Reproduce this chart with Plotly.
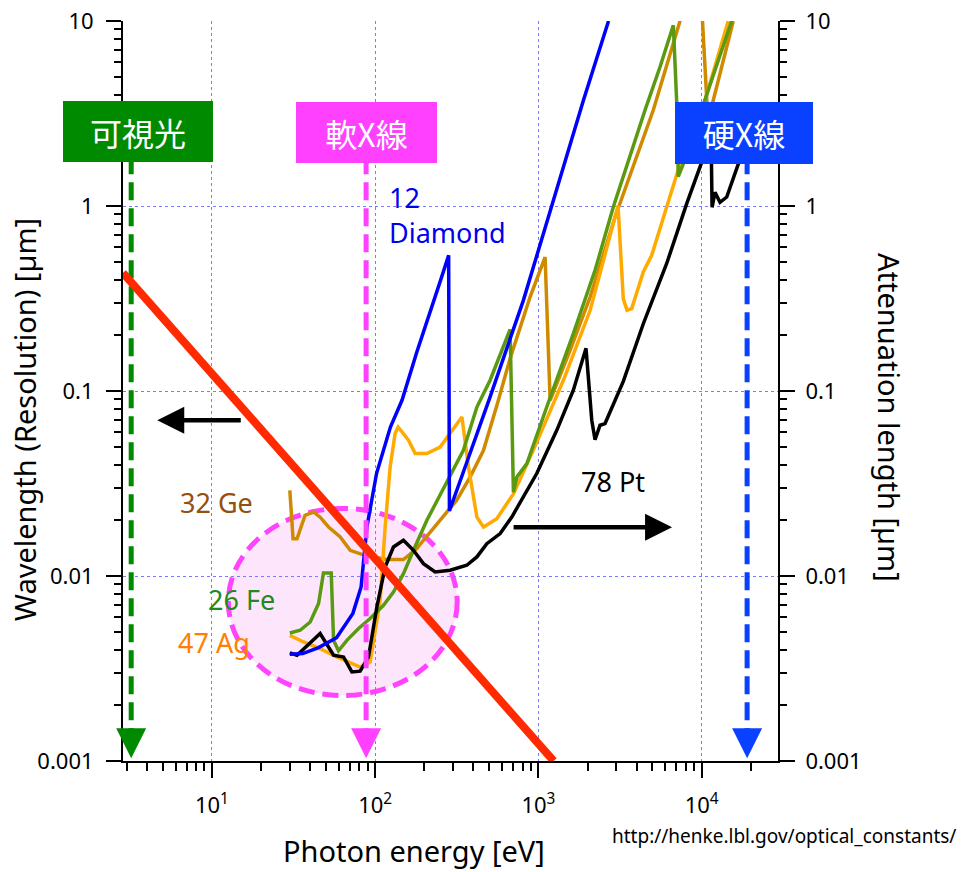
import math
import plotly.graph_objects as go

# ---- data: photon energy [eV] and attenuation length [um] ----
diamond_E = [30, 36, 45, 58, 73, 82, 89, 102, 124, 146, 180, 217, 250, 282, 285,
             350, 506, 809, 1074, 1423, 1888, 2690]
diamond_L = [0.00378, 0.00381, 0.0041, 0.00464, 0.00628, 0.00872, 0.0184, 0.0359,
             0.0638, 0.0891, 0.1626, 0.273, 0.39, 0.541, 0.0225, 0.0373, 0.0929,
             0.309, 0.71, 1.63, 3.73, 10.0]

fe_E = [30, 34.7, 40, 45, 48.2, 53.8, 55.6, 59.6, 67.1, 79.1, 93.1, 112.4, 129.4,
        149, 171.6, 207.4, 262, 347, 420, 506, 671, 703, 738, 850, 1125, 1637,
        2224, 2877, 4498, 5560, 6712, 7030, 7195, 7720, 15280]
fe_L = [0.00492, 0.00509, 0.00564, 0.0071, 0.01038, 0.01038, 0.00449, 0.00394,
        0.00449, 0.0052, 0.00589, 0.00695, 0.00819, 0.0103, 0.01377, 0.02, 0.0297,
        0.0478, 0.0819, 0.1143, 0.215, 0.0284, 0.0343, 0.0405, 0.0819, 0.204,
        0.449, 0.988, 3.29, 5.64, 9.48, 3.72, 1.44, 1.69, 10.0]

ge_E = [30, 31.4, 33.2, 37.2, 41.9, 46, 51.8, 61.1, 70.3, 82.9, 97.7, 118, 149,
        180, 197.6, 239, 316, 382, 461, 560, 671, 889, 1099, 1180, 1564, 2075,
        2951, 5060, 7380, 9640, 10940, 15630]
ge_L = [0.029, 0.0159, 0.0159, 0.0213, 0.0222, 0.0208, 0.0184, 0.01625, 0.01377,
        0.01309, 0.01268, 0.01227, 0.01227, 0.01406, 0.0156, 0.0192, 0.0257,
        0.0343, 0.0478, 0.085, 0.15, 0.322, 0.53, 0.0891, 0.166, 0.322, 0.872,
        3.3, 10.0, 22.0, 2.87, 10.0]

ag_E = [30, 36.4, 46, 58.2, 80.9, 93.1, 107.3, 115.1, 123.5, 132.5, 138.3, 160,
        175.8, 207.4, 250, 295, 340, 373, 420, 461, 556, 703, 931, 1423, 2075,
        3076, 3313, 3490, 3731, 4393, 4945, 5970, 7380, 10500, 14550]
ag_L = [0.00478, 0.0044, 0.00405, 0.00365, 0.00322, 0.00343, 0.0074, 0.0184,
        0.0388, 0.0589, 0.0639, 0.0542, 0.0459, 0.0459, 0.0498, 0.0613, 0.0723,
        0.0388, 0.0208, 0.0184, 0.0204, 0.0278, 0.0479, 0.1143, 0.273, 1.004,
        0.315, 0.273, 0.279, 0.44, 0.541, 0.925, 1.69, 3.73, 10.0]

pt_E = [30, 33.2, 46, 55.6, 64, 72, 80.9, 91, 102.4, 115.1, 129.4, 149, 171.6,
        197.6, 233, 288, 364, 420, 483, 583, 687, 809, 977, 1296, 1637, 1958,
        2123, 2224, 2386, 2560, 2877, 3313, 4393, 6110, 8103, 11430, 11590,
        12080, 12960, 14250, 16790, 30000]
pt_L = [0.00384, 0.00373, 0.00489, 0.00373, 0.00365, 0.00303, 0.00306, 0.00365,
        0.0068, 0.01119, 0.01435, 0.0156, 0.01377, 0.01166, 0.01051, 0.01074,
        0.01143, 0.01268, 0.01496, 0.01695, 0.02084, 0.02673, 0.0358, 0.0613,
        0.1009, 0.1702, 0.0695, 0.0545, 0.0653, 0.0667, 0.0838, 0.1127, 0.231,
        0.489, 1.03, 2.38, 0.984, 1.186, 1.046, 1.118, 1.69, 3.5]

# photon wavelength lambda[um] = 1.2398 / E[eV] (straight line on log-log)
wave_E = [2.85, 1240]
wave_L = [0.435, 0.001]

# representative energies of the three regions [eV]
region_names = ["可視光", "軟X線", "硬X線"]
region_E = [3.2, 88, 19000]
region_colors = ["#008a00", "#ff40ff", "#0a40ff"]

x_tickvals = [10, 100, 1000, 10000]
x_ticktext = ["10<sup>1</sup>", "10<sup>2</sup>", "10<sup>3</sup>", "10<sup>4</sup>"]
y_tickvals = [0.001, 0.01, 0.1, 1, 10]
y_ticktext = ["0.001", "0.01", "0.1", "1", "10"]

# ---- layout geometry ----
W, H = 965, 872
ML, MR, MT, MB = 123, 187, 21, 111
PW, PH = W - ML - MR, H - MT - MB
X_RANGE = [0.455, 4.468]
Y_RANGE = [-3, 1]


def xp(pix):
    return (pix - ML) / PW


def yp(pix):
    return (H - MB - pix) / PH


FONT = "Noto Sans, Open Sans, sans-serif"
CJK = "Noto Sans CJK JP, Noto Sans, sans-serif"

fig = go.Figure()

curves = [
    (ge_E, ge_L, "#d08a00"),
    (ag_E, ag_L, "#ffaa00"),
    (fe_E, fe_L, "#5a9a10"),
    (pt_E, pt_L, "#000000"),
    (diamond_E, diamond_L, "#0000ff"),
]
for e, l, c in curves:
    fig.add_trace(go.Scatter(x=e, y=l, mode="lines", line=dict(color=c, width=3.5),
                             hoverinfo="skip", showlegend=False))

# dashed region markers
for e, c in zip(region_E, region_colors):
    fig.add_trace(go.Scatter(x=[e, e], y=[0.0012, 3], mode="lines",
                             line=dict(color=c, width=5, dash="18px,8px"),
                             hoverinfo="skip", showlegend=False))

# wavelength line
fig.add_trace(go.Scatter(x=wave_E, y=wave_L, mode="lines",
                         line=dict(color="#ff2a00", width=8),
                         hoverinfo="skip", showlegend=False))

# helper trace to realise the right-hand axis
fig.add_trace(go.Scatter(x=[10], y=[1], yaxis="y2", mode="markers",
                         marker=dict(opacity=0), hoverinfo="skip", showlegend=False))

# highlighted soft x-ray region
fig.add_shape(type="circle", xref="x", yref="y", x0=12.6, x1=318, y0=0.00226, y1=0.0232,
              fillcolor="#fde6fc", line=dict(color="#ff44ff", width=5, dash="16px,8px"),
              layer="below")

minor_vals = [k * 10 ** n for n in range(0, 5) for k in range(2, 10)]
minor_y = [k * 10 ** n for n in range(-3, 1) for k in range(2, 10)]

axis_common = dict(type="log", ticks="outside", ticklen=15, tickwidth=2, tickcolor="black",
                   showline=True, linecolor="black", linewidth=2, zeroline=False,
                   tickfont=dict(family=FONT, size=22, color="black"))

fig.update_layout(
    width=W, height=H,
    margin=dict(l=ML, r=MR, t=MT, b=MB, autoexpand=False),
    paper_bgcolor="white", plot_bgcolor="white",
    xaxis=dict(range=X_RANGE, tickmode="array", tickvals=x_tickvals, ticktext=x_ticktext,
               showgrid=True, gridcolor="#7b7bff", griddash="dot", gridwidth=1,
               minor=dict(tickmode="array", tickvals=minor_vals, ticks="outside", ticklen=8,
                          tickwidth=1.5, tickcolor="black", showgrid=False),
               ticklabelstandoff=9, **axis_common),
    yaxis=dict(range=Y_RANGE, tickmode="array", tickvals=y_tickvals, ticktext=y_ticktext,
               showgrid=True, gridcolor="#7b7bff", griddash="dot", gridwidth=1,
               minor=dict(tickmode="array", tickvals=minor_y, ticks="outside", ticklen=7,
                          tickwidth=1.5, tickcolor="black", showgrid=False),
               ticklabelstandoff=8, **axis_common),
    yaxis2=dict(range=Y_RANGE, overlaying="y", side="right", anchor="x",
                tickmode="array", tickvals=y_tickvals, ticktext=y_ticktext, showgrid=False,
                minor=dict(tickmode="array", tickvals=minor_y, ticks="outside", ticklen=7,
                           tickwidth=1.5, tickcolor="black", showgrid=False),
                ticklabelstandoff=6, **axis_common),
)

ann = []
# axis titles
ann.append(dict(text="Photon energy [eV]", xref="paper", yref="paper", x=xp(414), y=yp(850),
                xanchor="center", yanchor="middle", showarrow=False,
                font=dict(family=FONT, size=29, color="black")))
ann.append(dict(text="Wavelength (Resolution) [µm]", xref="paper", yref="paper", x=xp(25),
                y=yp(420), xanchor="center", yanchor="middle", textangle=-90,
                showarrow=False, font=dict(family=FONT, size=29, color="black")))
ann.append(dict(text="Attenuation length [µm]", xref="paper", yref="paper", x=xp(890),
                y=yp(417), xanchor="center", yanchor="middle", textangle=90,
                showarrow=False, font=dict(family=FONT, size=29, color="black")))

# region boxes
box_geom = [(138, 131, 150, 61), (366.5, 132.5, 141, 61), (744, 133, 138, 62)]
for name, c, (cx, cy, bw, bh) in zip(region_names, region_colors, box_geom):
    ann.append(dict(text=name, xref="paper", yref="paper", x=xp(cx), y=yp(cy),
                    xanchor="center", yanchor="middle", showarrow=False, bgcolor=c,
                    width=bw, height=bh, borderpad=0, borderwidth=0,
                    font=dict(family=CJK, size=32, color="white")))

# arrow heads at the bottom of the dashed markers
for e, c in zip(region_E, region_colors):
    ann.append(dict(text="", xref="x", yref="y", x=math.log10(e), y=-2.985, showarrow=True,
                    arrowhead=2, arrowsize=1, arrowwidth=6, arrowcolor=c, ax=0, ay=-31,
                    standoff=0))

# axis-pointing arrows
ann.append(dict(text="", xref="x", yref="y", x=0.665, y=-1.158, showarrow=True, arrowhead=2,
                arrowsize=1.2, arrowwidth=4.5, arrowcolor="black", ax=85, ay=0, standoff=0))
ann.append(dict(text="", xref="x", yref="y", x=3.819, y=-1.737, showarrow=True, arrowhead=2,
                arrowsize=1.2, arrowwidth=4.5, arrowcolor="black", ax=-160, ay=0, standoff=0))

# element labels
labels = [
    ("12<br>Diamond", 387, 215, "#0000ee", "left"),
    ("32 Ge", 216, 502, "#94500f", "center"),
    ("26 Fe", 241, 599, "#1f8a1f", "center"),
    ("47 Ag", 214, 642, "#ff8000", "center"),
    ("78 Pt", 613, 481, "#000000", "center"),
]
for t, lx, ly, c, al in labels:
    ann.append(dict(text=t, xref="paper", yref="paper", x=xp(lx), y=yp(ly),
                    xanchor=al, yanchor="middle", align="left", showarrow=False,
                    font=dict(family=FONT, size=27, color=c)))

ann.append(dict(text="http://henke.lbl.gov/optical_constants/", xref="paper", yref="paper",
                x=xp(958), y=yp(836), xanchor="right", yanchor="middle", showarrow=False,
                font=dict(family=FONT, size=19, color="black")))

fig.update_layout(annotations=ann)

fig.write_html("out.html")
